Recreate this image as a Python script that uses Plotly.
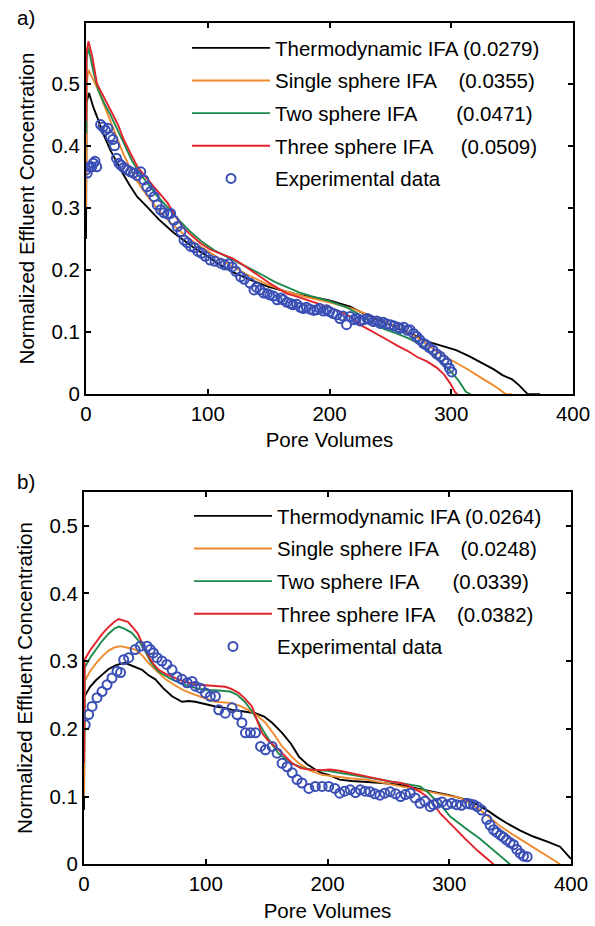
import plotly.graph_objects as go

# ---------------- Panel a) ----------------
thermo_a_x = [0, 0.5, 2.5, 6, 9, 14, 20, 25, 30, 36, 42, 50, 60, 72, 80, 90, 100, 108, 120, 135, 150, 165, 175, 190, 200, 217, 230, 241, 250, 258, 270, 282, 293, 304, 315, 326, 335, 342, 350, 356, 363, 373]
thermo_a_y = [0.25, 0.47, 0.485, 0.462, 0.447, 0.42, 0.393, 0.374, 0.356, 0.336, 0.318, 0.302, 0.281, 0.26, 0.248, 0.234, 0.222, 0.211, 0.197, 0.184, 0.173, 0.165, 0.16, 0.155, 0.151, 0.141, 0.128, 0.119, 0.112, 0.104, 0.095, 0.084, 0.078, 0.071, 0.061, 0.05, 0.04, 0.031, 0.024, 0.014, 0.0, 0.0]

single_a_x = [0, 0.5, 2, 6, 10, 15, 20, 25, 30, 36, 42, 50, 60, 70, 80, 90, 100, 110, 120, 135, 150, 165, 180, 200, 220, 240, 260, 275, 290, 300, 312, 325, 335, 345, 350]
single_a_y = [0.3, 0.5, 0.522, 0.505, 0.49, 0.465, 0.44, 0.415, 0.39, 0.365, 0.343, 0.32, 0.295, 0.275, 0.258, 0.243, 0.23, 0.218, 0.206, 0.19, 0.176, 0.165, 0.157, 0.148, 0.137, 0.122, 0.104, 0.088, 0.066, 0.055, 0.042, 0.026, 0.014, 0.0, 0.0]

two_a_x = [0, 0.5, 2, 6, 10, 15, 20, 26, 32, 38, 44, 50, 58, 66, 75, 85, 95, 105, 115, 125, 135, 145, 155, 165, 175, 185, 200, 215, 225, 235, 245, 255, 265, 275, 285, 293, 300, 306, 312, 316]
two_a_y = [0.42, 0.54, 0.558, 0.52, 0.49, 0.468, 0.45, 0.425, 0.398, 0.375, 0.356, 0.34, 0.32, 0.303, 0.283, 0.263, 0.246, 0.232, 0.222, 0.213, 0.203, 0.192, 0.181, 0.172, 0.164, 0.158, 0.15, 0.139, 0.128, 0.115, 0.105, 0.098, 0.09, 0.08, 0.064, 0.05, 0.036, 0.022, 0.004, 0.0]

three_a_x = [0, 0.5, 2, 5, 9, 15, 20, 26, 31, 37, 42, 48, 53, 60, 67, 74, 80, 87, 94, 102, 108, 115, 120, 127, 135, 143, 150, 158, 165, 172, 180, 190, 200, 210, 217, 225, 232, 240, 248, 256, 264, 272, 280, 288, 294, 299, 303, 305]
three_a_y = [0.44, 0.55, 0.568, 0.545, 0.5, 0.478, 0.458, 0.435, 0.41, 0.386, 0.367, 0.352, 0.34, 0.325, 0.308, 0.285, 0.268, 0.255, 0.243, 0.233, 0.228, 0.222, 0.219, 0.211, 0.2, 0.19, 0.18, 0.17, 0.162, 0.158, 0.153, 0.146, 0.14, 0.132, 0.125, 0.112, 0.104, 0.095, 0.087, 0.078, 0.07, 0.06, 0.053, 0.043, 0.032, 0.018, 0.004, 0.0]

exp_a_x = [0, 1, 3, 4.7, 6, 7.4, 8.8, 12, 14, 16, 18, 20, 22, 23.5, 25, 27, 28.5, 31, 34, 36.5, 39, 42, 45, 47.5, 50, 53, 56, 58.5, 61.3, 64, 67, 69.5, 72, 75, 78, 80.5, 83, 86, 89, 92, 95, 98, 102, 106, 110.6, 114, 117, 120, 123, 127, 130, 134.7, 138, 140, 143, 146, 149, 151, 154, 157, 160, 162, 165, 168, 170, 173, 176, 178.5, 181, 184, 187, 189.5, 192, 195, 197.7, 200, 203, 206, 208.6, 211, 214, 217, 220, 222, 225, 228, 231, 233, 236, 239, 241.5, 244, 247, 250, 253, 256, 258, 261, 264, 266, 269, 271.6, 274, 277, 279, 282, 285, 288, 291, 294, 296.4, 298.5, 300.4]
exp_a_y = [0.361, 0.356, 0.366, 0.366, 0.372, 0.375, 0.366, 0.434, 0.43, 0.425, 0.428, 0.415, 0.41, 0.4, 0.38, 0.372, 0.369, 0.365, 0.361, 0.358, 0.356, 0.352, 0.358, 0.345, 0.334, 0.326, 0.318, 0.305, 0.297, 0.292, 0.29, 0.291, 0.28, 0.27, 0.262, 0.248, 0.244, 0.238, 0.236, 0.23, 0.227, 0.222, 0.216, 0.214, 0.211, 0.208, 0.21, 0.205, 0.198, 0.189, 0.185, 0.179, 0.168, 0.172, 0.168, 0.163, 0.162, 0.16, 0.158, 0.152, 0.155, 0.152, 0.148, 0.146, 0.144, 0.145, 0.14, 0.138, 0.14, 0.137, 0.135, 0.136, 0.138, 0.134, 0.136, 0.133, 0.13, 0.128, 0.122, 0.126, 0.112, 0.125, 0.12, 0.122, 0.118, 0.12, 0.122, 0.12, 0.117, 0.118, 0.114, 0.116, 0.113, 0.112, 0.11, 0.108, 0.106, 0.108, 0.103, 0.104, 0.098, 0.093, 0.088, 0.082, 0.08, 0.075, 0.071, 0.065, 0.061, 0.055, 0.05, 0.042, 0.036]

# ---------------- Panel b) ----------------
thermo_b_x = [0, 0.5, 5, 10, 15, 20, 25, 30, 34, 40, 47.7, 53, 58.6, 65, 72.3, 80.5, 86, 91.5, 100, 108, 115, 121.6, 130, 140.8, 148, 154.5, 162.7, 170, 176.5, 183, 190, 195, 201, 210, 220, 232, 245, 260, 275, 287, 300, 314.5, 323, 331, 339, 347, 358, 369, 380, 391, 400]
thermo_b_y = [0.08, 0.248, 0.262, 0.272, 0.28, 0.288, 0.293, 0.296, 0.297, 0.293, 0.287, 0.279, 0.273, 0.26, 0.248, 0.24, 0.241, 0.24, 0.236, 0.233, 0.231, 0.228, 0.226, 0.223, 0.218, 0.209, 0.194, 0.178, 0.159, 0.148, 0.14, 0.135, 0.132, 0.125, 0.123, 0.122, 0.12, 0.117, 0.112, 0.107, 0.102, 0.095, 0.088, 0.08, 0.07, 0.061, 0.05, 0.041, 0.034, 0.026, 0.008]

single_b_x = [0, 0.5, 5, 10, 15, 20, 25, 29.6, 35, 42, 48, 53, 60, 67, 74, 80.5, 87, 94, 101, 108, 115, 121.6, 128, 135, 142, 149, 156, 162.7, 170, 176.5, 185, 195.6, 205, 218, 232, 246, 260, 273, 287, 298, 309, 317, 325.5, 334, 342, 353, 364, 375, 386, 391]
single_b_y = [0.1, 0.27, 0.285, 0.297, 0.307, 0.315, 0.32, 0.322, 0.32, 0.317, 0.308, 0.297, 0.285, 0.273, 0.265, 0.258, 0.253, 0.248, 0.244, 0.24, 0.239, 0.238, 0.234, 0.228, 0.22, 0.209, 0.192, 0.174, 0.16, 0.149, 0.139, 0.132, 0.13, 0.127, 0.125, 0.12, 0.115, 0.11, 0.105, 0.101, 0.098, 0.09, 0.08, 0.068, 0.056, 0.043, 0.031, 0.018, 0.006, 0.0]

two_b_x = [0, 0.5, 5, 10, 15, 20, 25, 28.5, 33, 39, 45, 50, 55, 61, 67, 72, 80, 88, 95, 102, 108, 114, 120, 126, 132, 138, 143, 148, 154, 160, 166, 172, 180, 190, 200, 210, 220, 232, 245, 260, 270, 276, 282, 287, 294, 301, 308, 315, 325, 336, 344, 350]
two_b_y = [0.15, 0.29, 0.305, 0.318, 0.33, 0.34, 0.348, 0.351, 0.348, 0.342, 0.33, 0.315, 0.298, 0.285, 0.278, 0.273, 0.267, 0.262, 0.259, 0.257, 0.257, 0.256, 0.255, 0.25, 0.24, 0.226, 0.21, 0.195, 0.178, 0.163, 0.155, 0.148, 0.142, 0.139, 0.138, 0.135, 0.132, 0.129, 0.125, 0.12, 0.117, 0.115, 0.107, 0.098, 0.085, 0.07, 0.06, 0.051, 0.038, 0.021, 0.009, 0.0]

three_b_x = [0, 0.5, 5, 10, 15, 20, 25, 28.5, 32, 36, 39.5, 44, 47.7, 53, 57, 61.4, 67, 72.3, 79, 86, 94, 102.5, 110, 116, 121, 127, 132, 138, 142, 146, 151, 157, 164, 171, 178, 185, 194, 202, 210, 218, 227, 235, 243, 252, 260, 266, 270.6, 276, 281.6, 287, 292.6, 299, 306, 314, 322.7, 330, 336.4]
three_b_y = [0.15, 0.302, 0.316, 0.328, 0.34, 0.35, 0.358, 0.362, 0.36, 0.358, 0.351, 0.341, 0.327, 0.307, 0.296, 0.287, 0.281, 0.277, 0.272, 0.268, 0.265, 0.264, 0.263, 0.262, 0.259, 0.253, 0.245, 0.233, 0.213, 0.194, 0.183, 0.174, 0.162, 0.149, 0.142, 0.14, 0.139, 0.14, 0.138, 0.135, 0.132, 0.128, 0.125, 0.122, 0.12, 0.117, 0.112, 0.107, 0.1, 0.089, 0.075, 0.063, 0.051, 0.036, 0.021, 0.01, 0.0]

exp_b_x = [1, 3.8, 6.6, 10.7, 14.8, 18.9, 23, 27.1, 30, 32.6, 36.7, 42, 46.3, 51.8, 54.5, 57, 60, 64, 68, 72.3, 76.3, 80.5, 84.7, 88.8, 91.5, 95.6, 99.7, 103.8, 108, 110.7, 116, 121.6, 125.7, 129.7, 132.6, 136.7, 140.8, 145, 149, 154.5, 158.6, 162.7, 166.8, 171, 175, 179, 184.7, 190, 195.6, 201, 206, 210, 214, 218.6, 223, 227, 231, 235, 239, 243, 247, 251.5, 256, 260, 264, 268, 272, 276, 280, 284.4, 287, 290, 294, 298, 302, 306, 310, 314.5, 317, 320, 323, 326.6, 330.8, 333.5, 336.4, 339, 342, 344.5, 347, 350, 352.8, 355.5, 358.4, 361, 364]
exp_b_y = [0.206, 0.221, 0.233, 0.246, 0.255, 0.265, 0.275, 0.285, 0.283, 0.302, 0.305, 0.317, 0.322, 0.322, 0.317, 0.312, 0.305, 0.3, 0.295, 0.287, 0.277, 0.273, 0.268, 0.27, 0.263, 0.26, 0.253, 0.248, 0.248, 0.228, 0.223, 0.231, 0.221, 0.209, 0.194, 0.194, 0.194, 0.174, 0.169, 0.174, 0.164, 0.149, 0.144, 0.135, 0.125, 0.12, 0.112, 0.115, 0.115, 0.115, 0.112, 0.105, 0.108, 0.11, 0.106, 0.11, 0.108, 0.107, 0.104, 0.102, 0.105, 0.107, 0.104, 0.1, 0.103, 0.105, 0.098, 0.09, 0.093, 0.085, 0.088, 0.09, 0.092, 0.088, 0.09, 0.088, 0.087, 0.09, 0.089, 0.088, 0.085, 0.08, 0.066, 0.058, 0.051, 0.047, 0.043, 0.04, 0.036, 0.032, 0.029, 0.022, 0.016, 0.012, 0.011]

names_a = ["Thermodynamic IFA (0.0279)",
           "Single sphere IFA    (0.0355)",
           "Two sphere IFA       (0.0471)",
           "Three sphere IFA     (0.0509)",
           "Experimental data"]
names_b = ["Thermodynamic IFA (0.0264)",
           "Single sphere IFA    (0.0248)",
           "Two sphere IFA      (0.0339)",
           "Three sphere IFA    (0.0382)",
           "Experimental data"]

colors = ["#000000", "#F08A2C", "#1E8B4E", "#E3232A"]
marker_color = "#3A4FB5"
FONT = "Liberation Sans, Arial, Helvetica, sans-serif"
FS = 20.5

for name, xs, ys in [("a", thermo_a_x, thermo_a_y), ("b", single_a_x, single_a_y),
                     ("c", two_a_x, two_a_y), ("d", three_a_x, three_a_y),
                     ("e", exp_a_x, exp_a_y), ("f", thermo_b_x, thermo_b_y),
                     ("g", single_b_x, single_b_y), ("h", two_b_x, two_b_y),
                     ("i", three_b_x, three_b_y), ("j", exp_b_x, exp_b_y)]:
    assert len(xs) == len(ys), (name, len(xs), len(ys))

fig = go.Figure()

panels = [
    ("x", "y", "legend", names_a,
     [(thermo_a_x, thermo_a_y), (single_a_x, single_a_y), (two_a_x, two_a_y), (three_a_x, three_a_y)],
     (exp_a_x, exp_a_y)),
    ("x2", "y2", "legend2", names_b,
     [(thermo_b_x, thermo_b_y), (single_b_x, single_b_y), (two_b_x, two_b_y), (three_b_x, three_b_y)],
     (exp_b_x, exp_b_y)),
]

for xa, ya, leg, names, curves, exp in panels:
    for k, (cx, cy) in enumerate(curves):
        fig.add_trace(go.Scatter(x=cx, y=cy, mode="lines", name=names[k],
                                 line=dict(color=colors[k], width=1.9),
                                 xaxis=xa, yaxis=ya, legend=leg,
                                 legendgroup=leg + str(k)))
    fig.add_trace(go.Scatter(x=exp[0], y=exp[1], mode="markers", name=names[4],
                             marker=dict(symbol="circle-open", size=9, color=marker_color,
                                         line=dict(width=2, color=marker_color)),
                             xaxis=xa, yaxis=ya, legend=leg, legendgroup=leg + "4"))

axis_common = dict(showline=True, linecolor="black", linewidth=2, mirror="ticks",
                   ticks="inside", ticklen=5, tickwidth=1.5, tickcolor="black",
                   showgrid=False, zeroline=False,
                   tickfont=dict(family=FONT, size=FS, color="black"))

yticks = [0, 0.1, 0.2, 0.3, 0.4, 0.5]
yticktext = ["0", "0.1", "0.2", "0.3", "0.4", "0.5"]

leg_common = dict(xanchor="left", yanchor="top", bgcolor="rgba(0,0,0,0)", borderwidth=0,
                  itemwidth=78, font=dict(family=FONT, size=FS, color="black"),
                  tracegroupgap=3, traceorder="grouped")

fig.update_layout(
    width=595, height=926,
    margin=dict(l=0, r=0, t=0, b=0),
    paper_bgcolor="white", plot_bgcolor="white",
    font=dict(family=FONT, size=FS, color="black"),
    xaxis=dict(domain=[86/595, 573/595], range=[0, 400], dtick=100, anchor="y",
               title=dict(text="Pore Volumes", standoff=9, font=dict(size=FS)), automargin=False,
               **axis_common),
    yaxis=dict(domain=[1 - 394.3/926, 1 - 22.7/926], range=[0, 0.598], tickvals=yticks,
               ticktext=yticktext, anchor="x",
               title=dict(text="Normalized Effluent Concentration", standoff=11, font=dict(size=FS)),
               automargin=False, **axis_common),
    xaxis2=dict(domain=[84/595, 571/595], range=[0, 400], dtick=100, anchor="y2",
                title=dict(text="Pore Volumes", standoff=10, font=dict(size=FS)), automargin=False,
                **axis_common),
    yaxis2=dict(domain=[1 - 864.3/926, 1 - 491.7/926], range=[0, 0.55], tickvals=yticks,
                ticktext=yticktext, anchor="x2",
                title=dict(text="Normalized Effluent Concentration", standoff=11, font=dict(size=FS)),
                automargin=False, **axis_common),
    legend=dict(x=187/595, y=1 - 28/926, **leg_common),
    legend2=dict(x=189/595, y=1 - 496/926, **leg_common),
    showlegend=True,
    annotations=[
        dict(text="a)", x=15/595, y=1 - 17/926, xref="paper", yref="paper",
             xanchor="left", yanchor="middle", showarrow=False,
             font=dict(family=FONT, size=FS, color="black")),
        dict(text="b)", x=15/595, y=1 - 481/926, xref="paper", yref="paper",
             xanchor="left", yanchor="middle", showarrow=False,
             font=dict(family=FONT, size=FS, color="black")),
    ],
)

fig.write_html("out.html")
